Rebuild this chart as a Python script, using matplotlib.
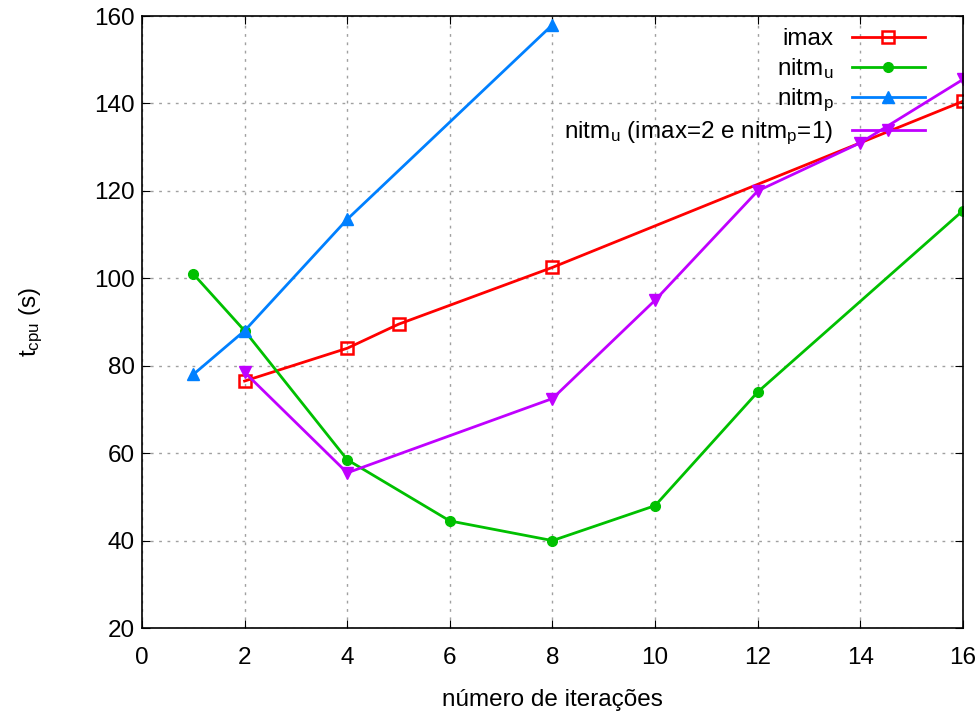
import matplotlib
matplotlib.use("Agg")
import matplotlib.pyplot as plt

plt.rcParams['font.family'] = ['Liberation Sans', 'DejaVu Sans']
plt.rcParams['mathtext.default'] = 'regular'

imax_x = [2, 4, 5, 8, 16]
imax_y = [76.5, 84.0, 89.5, 102.5, 140.5]

nitmu_x = [1, 2, 4, 6, 8, 10, 12, 16]
nitmu_y = [101.0, 88.0, 58.5, 44.5, 40.0, 48.0, 74.0, 115.5]

nitmp_x = [1, 2, 4, 8]
nitmp_y = [78.0, 88.0, 113.5, 158.0]

combo_x = [2, 4, 8, 10, 12, 14, 16]
combo_y = [78.5, 55.5, 72.5, 95.0, 120.0, 131.0, 145.5]

labels = ['imax', 'nitm$_u$', 'nitm$_p$', 'nitm$_u$ (imax=2 e nitm$_p$=1)']
xticks = list(range(0, 17, 2))
yticks = list(range(20, 161, 20))

FS = 17.5
fig = plt.figure(figsize=(9.79, 7.18), dpi=100)
ax = fig.add_axes([0.145, 0.1253, 0.8387, 0.8524])

ax.plot(imax_x, imax_y, color='#ff0000', lw=2, marker='s', ms=8, mfc='none', mec='#ff0000', mew=1.8, label=labels[0])
ax.plot(nitmu_x, nitmu_y, color='#00c000', lw=2, marker='o', ms=7, label=labels[1])
ax.plot(nitmp_x, nitmp_y, color='#0080ff', lw=2, marker='^', ms=9, label=labels[2])
ax.plot(combo_x, combo_y, color='#c000ff', lw=2, marker='v', ms=9, label=labels[3])

ax.set_xlim(0, 16)
ax.set_ylim(20, 160)
ax.set_xticks(xticks)
ax.set_yticks(yticks)
ax.tick_params(direction='in', top=True, right=True, labelsize=FS, length=6, pad=5)
ax.tick_params(axis='x', pad=14)
ax.grid(True, color='#a0a0a0', linestyle=(0, (2, 4)), lw=1)
for s in ax.spines.values():
    s.set_linewidth(1.2)

ax.set_xlabel('número de iterações', fontsize=FS)
ax.set_ylabel('t$_{cpu}$ (s)', fontsize=FS)
ax.xaxis.set_label_coords(0.5, -0.1, transform=ax.transAxes)
ax.yaxis.set_label_coords(-0.118, 0.5, transform=ax.transAxes)

leg = ax.legend(loc='upper right', frameon=False, markerfirst=False,
                fontsize=FS, handlelength=3.0, labelspacing=0.24, borderaxespad=0.0,
                borderpad=0.5, handletextpad=0.75)
leg.set_bbox_to_anchor((0.968, 1.0), transform=ax.transAxes)

fig.savefig('out.png', dpi=100)
